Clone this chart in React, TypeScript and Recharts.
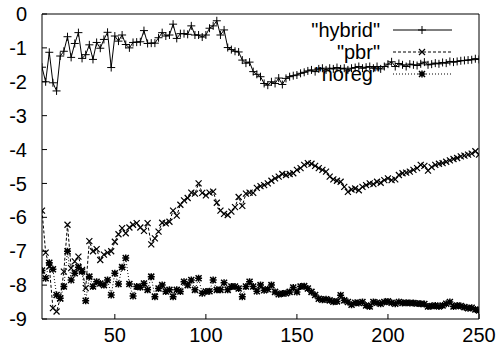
import React from 'react';
import { LineChart, Line, XAxis, YAxis, Customized } from 'recharts';

const xValues = [
  10, 12, 14, 16, 18, 20, 22, 24, 26, 28, 30, 32, 34, 36, 38, 40, 42, 44, 46, 48,
  50, 52, 54, 56, 58, 60, 62, 64, 66, 68, 70, 72, 74, 76, 78, 80, 82, 84, 86, 88,
  90, 92, 94, 96, 98, 100, 102, 104, 106, 108, 110, 112, 114, 116, 118, 120, 122, 124, 126, 128,
  130, 132, 134, 136, 138, 140, 142, 144, 146, 148, 150, 152, 154, 156, 158, 160, 162, 164, 166, 168,
  170, 172, 174, 176, 178, 180, 182, 184, 186, 188, 190, 192, 194, 196, 198, 200, 202, 204, 206, 208,
  210, 212, 214, 216, 218, 220, 222, 224, 226, 228, 230, 232, 234, 236, 238, 240, 242, 244, 246, 248,
  250,
];

const hybrid = [
  -1.57, -2.0, -1.13, -2.03, -2.27, -1.24, -1.1, -0.67, -1.28, -0.87,
  -0.55, -1.31, -1.2, -0.91, -1.34, -0.84, -1.01, -0.75, -0.54, -1.58,
  -0.65, -0.8, -0.62, -0.9, -1.0, -0.84, -0.83, -0.82, -0.49, -0.87,
  -0.86, -0.86, -0.7, -0.55, -0.65, -0.62, -0.3, -0.72, -0.58, -0.58,
  -0.6, -0.35, -0.62, -0.62, -0.68, -0.62, -0.42, -0.35, -0.2, -0.62,
  -0.47, -0.99, -1.05, -1.1, -1.12, -1.36, -1.45, -1.42, -1.7, -1.78,
  -1.85, -2.05, -2.1, -2.0, -2.05, -1.89, -2.08, -1.9, -1.85, -1.82,
  -1.8, -1.75, -1.72, -1.68, -1.65, -1.7, -1.62, -1.6, -1.65, -1.6,
  -1.62, -1.58, -1.62, -1.6, -1.65, -1.6, -1.58, -1.55, -1.6, -1.57,
  -1.55, -1.6, -1.55, -1.62, -1.55, -1.48, -1.41, -1.55, -1.46, -1.5,
  -1.55, -1.48, -1.5, -1.52, -1.47, -1.42, -1.5, -1.48, -1.45, -1.47,
  -1.43, -1.45, -1.4, -1.42, -1.4, -1.38, -1.37, -1.36, -1.35, -1.32,
  -1.34,
];

const pbr = [
  -5.8, -7.04, -7.45, -8.68, -8.78, -8.4, -7.6, -6.22, -7.5, -7.3,
  -7.16, -7.55, -8.09, -6.7, -7.0, -6.94, -7.26, -7.1, -7.04, -7.0,
  -6.72, -6.5, -6.32, -6.47, -6.3, -6.22, -6.17, -6.3, -6.4, -6.17,
  -6.8, -6.62, -6.42, -6.16, -6.18, -6.13, -5.8, -5.95, -5.63, -5.5,
  -5.43, -5.27, -5.3, -5.0, -5.28, -5.35, -5.27, -5.24, -5.57, -5.8,
  -5.9, -5.93, -5.83, -5.7, -5.4, -5.66, -5.3, -5.27, -5.28, -5.13,
  -5.08, -5.05, -5.0, -4.92, -4.85, -4.8, -4.72, -4.75, -4.72, -4.7,
  -4.6, -4.55, -4.45, -4.4, -4.42, -4.48, -4.55, -4.6, -4.65, -4.8,
  -4.88, -4.92, -4.95, -5.1, -5.25, -5.18, -5.15, -5.2, -5.1, -5.05,
  -5.0, -5.02, -4.95, -4.98, -4.9, -4.85, -4.9, -4.88, -4.75, -4.7,
  -4.68, -4.65, -4.6, -4.55, -4.45, -4.48, -4.62, -4.52, -4.45, -4.42,
  -4.4, -4.36, -4.32, -4.28, -4.25, -4.2, -4.18, -4.15, -4.12, -4.05,
  -4.15,
];

const noreg = [
  -7.57, -7.8, -7.34, -7.53, -8.29, -8.39, -8.04, -7.0, -7.85, -7.65,
  -7.47, -7.6, -8.46, -7.75, -8.04, -7.9, -7.95, -8.0, -7.85, -8.29,
  -7.65, -7.97, -7.47, -7.2, -7.97, -8.32, -8.04, -8.06, -7.95, -8.14,
  -7.75, -8.34, -8.1, -8.0, -8.19, -8.14, -8.34, -8.14, -8.19, -7.9,
  -8.0, -7.85, -8.14, -7.8, -8.24, -8.19, -8.18, -7.85, -8.14, -8.14,
  -7.93, -8.14, -8.04, -8.04, -8.1, -8.34, -8.04, -7.9, -8.04, -8.18,
  -8.0, -8.15, -8.12, -8.0, -8.2, -8.27, -8.25, -8.24, -8.2, -8.07,
  -8.2, -8.04, -8.03, -8.1, -8.2, -8.29, -8.4, -8.43, -8.42, -8.45,
  -8.49, -8.48, -8.3, -8.45, -8.5, -8.58, -8.52, -8.53, -8.5, -8.6,
  -8.63, -8.5, -8.52, -8.55, -8.5, -8.48, -8.52, -8.55, -8.5, -8.53,
  -8.52, -8.53, -8.53, -8.54, -8.55, -8.56, -8.63, -8.62, -8.6, -8.63,
  -8.6, -8.55, -8.5, -8.63, -8.6, -8.62, -8.65, -8.68, -8.67, -8.72,
  -8.75,
];

const xTicks = [50, 100, 150, 200, 250];
const yTicks = [-9, -8, -7, -6, -5, -4, -3, -2, -1, 0];
const seriesNames = ['"hybrid"', '"pbr"', '"noreg"'];

const data = xValues.map((x, i) => ({ x, hybrid: hybrid[i], pbr: pbr[i], noreg: noreg[i] }));

const font = '"Liberation Sans", Arial, Helvetica, sans-serif';
const ink = '#000';

const plusPath = (cx: number, cy: number, r: number) =>
  `M${cx - r},${cy}H${cx + r}M${cx},${cy - r}V${cy + r}`;
const crossPath = (cx: number, cy: number, r: number) =>
  `M${cx - r},${cy - r}L${cx + r},${cy + r}M${cx - r},${cy + r}L${cx + r},${cy - r}`;

const PlusDot = (p: any) =>
  p.cx == null ? <g key={p.index} /> : (
    <path key={p.index} d={plusPath(p.cx, p.cy, 4)} stroke={ink} strokeWidth={1} fill="none" />
  );
const CrossDot = (p: any) =>
  p.cx == null ? <g key={p.index} /> : (
    <path key={p.index} d={crossPath(p.cx, p.cy, 3)} stroke={ink} strokeWidth={1.2} fill="none" />
  );
const StarDot = (p: any) =>
  p.cx == null ? <g key={p.index} /> : (
    <path
      key={p.index}
      d={plusPath(p.cx, p.cy, 3.5) + crossPath(p.cx, p.cy, 3)}
      stroke={ink}
      strokeWidth={1.5}
      fill="none"
    />
  );

const KeyBox = () => {
  const tx = 380;
  const x1 = 393;
  const x2 = 452;
  const mid = 422;
  const rows = [30, 52, 74];
  return (
    <g>
      {rows.map((y, i) => (
        <g key={i}>
          <text x={tx} y={y + 7} textAnchor="end" fontSize={20} fontFamily={font} fill={ink}>
            {seriesNames[i]}
          </text>
          <line
            x1={x1}
            x2={x2}
            y1={y}
            y2={y}
            stroke={ink}
            strokeWidth={1}
            strokeDasharray={i === 0 ? undefined : i === 1 ? '3 2' : '1 2'}
          />
          {i === 0 && <path d={plusPath(mid, y, 4)} stroke={ink} fill="none" />}
          {i === 1 && <path d={crossPath(mid, y, 3)} stroke={ink} strokeWidth={1.2} fill="none" />}
          {i === 2 && (
            <path d={plusPath(mid, y, 3.5) + crossPath(mid, y, 3)} stroke={ink} strokeWidth={1.5} fill="none" />
          )}
        </g>
      ))}
    </g>
  );
};

const tickStyle = { fill: ink, fontSize: 20, fontFamily: font };

export default function App() {
  return (
    <div style={{ position: 'absolute', left: 0, top: 0, background: '#fff' }}>
      <LineChart width={498} height={356} data={data} margin={{ top: 0, right: 0, bottom: 0, left: 0 }}>
        <XAxis
          xAxisId="b"
          dataKey="x"
          type="number"
          domain={[10, 250]}
          ticks={xTicks}
          allowDataOverflow
          height={37}
          tickSize={-5}
          tickMargin={14}
          stroke={ink}
          tick={tickStyle}
        />
        <XAxis
          xAxisId="t"
          orientation="top"
          dataKey="x"
          type="number"
          domain={[10, 250]}
          ticks={xTicks}
          allowDataOverflow
          height={14}
          tickSize={-5}
          tick={false}
          stroke={ink}
        />
        <YAxis
          yAxisId="l"
          type="number"
          domain={[-9, 0]}
          ticks={yTicks}
          allowDataOverflow
          width={42}
          tickSize={-5}
          tickMargin={20}
          stroke={ink}
          tick={tickStyle}
        />
        <YAxis
          yAxisId="r"
          orientation="right"
          type="number"
          domain={[-9, 0]}
          ticks={yTicks}
          allowDataOverflow
          width={19}
          tickSize={-5}
          tick={false}
          stroke={ink}
        />
        <Line
          xAxisId="b"
          yAxisId="l"
          type="linear"
          dataKey="hybrid"
          stroke={ink}
          strokeWidth={1}
          dot={PlusDot}
          activeDot={false}
          isAnimationActive={false}
        />
        <Line
          xAxisId="b"
          yAxisId="l"
          type="linear"
          dataKey="pbr"
          stroke={ink}
          strokeWidth={1}
          strokeDasharray="3 2"
          dot={CrossDot}
          activeDot={false}
          isAnimationActive={false}
        />
        <Line
          xAxisId="b"
          yAxisId="l"
          type="linear"
          dataKey="noreg"
          stroke={ink}
          strokeWidth={1}
          strokeDasharray="1 2"
          dot={StarDot}
          activeDot={false}
          isAnimationActive={false}
        />
        <Customized component={KeyBox} />
      </LineChart>
    </div>
  );
}
